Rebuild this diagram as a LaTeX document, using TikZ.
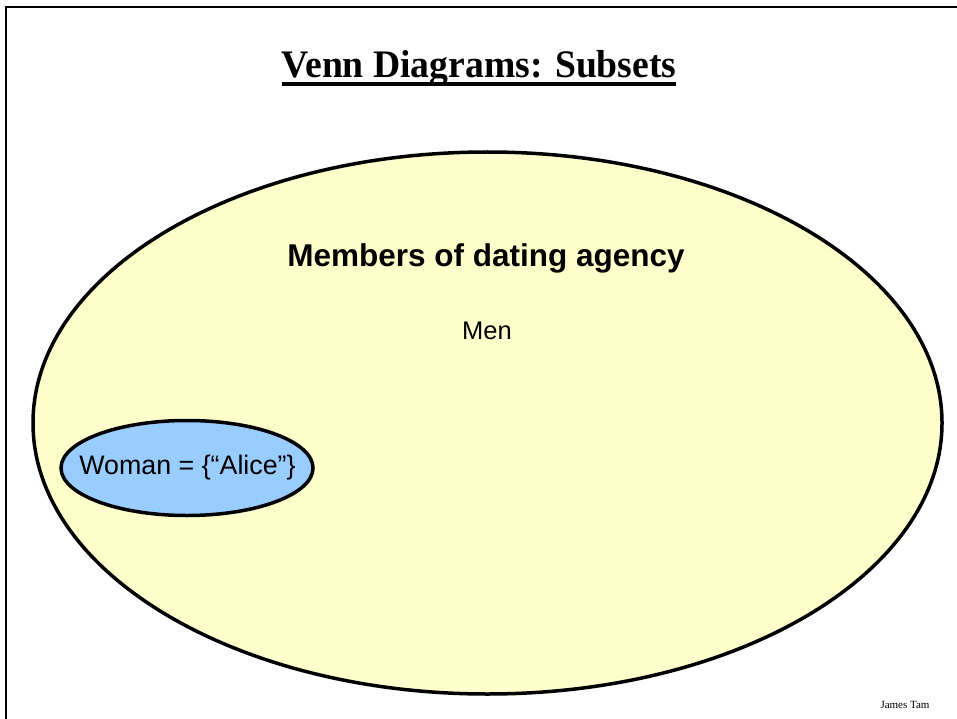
\documentclass[tikz,border=0pt]{standalone}
\usepackage{fontspec}
\setmainfont{Liberation Sans}
\newfontfamily\titlefont{Liberation Serif}
\usetikzlibrary{shapes.geometric}
\definecolor{setyellow}{HTML}{FFFFCC}
\definecolor{setblue}{HTML}{99CCFF}
\tikzset{
  setshape/.style={ellipse, draw=black, line width=3.5pt, inner sep=0pt, outer sep=0pt},
  lbl/.style={inner sep=0pt, anchor=center, text=black}
}
\begin{document}
\begin{tikzpicture}[x=1pt,y=-1pt]
\useasboundingbox (0,0) rectangle (957,719);
\fill[white] (0,0) rectangle (957,719);
\coordinate (fl) at (5.7,719);
\coordinate (fc) at (5.7,6.8);
\coordinate (fr) at (957,6.8);
\draw[line width=2.3pt] (fl) -- (fc) -- (fr);
\node[lbl, anchor=base, xscale=0.965, transform shape] (title) at (479,78) {\titlefont\fontsize{39}{42}\selectfont\bfseries Venn Diagrams: Subsets};
\coordinate (ul) at (282,84);
\coordinate (ur) at (676,84);
\draw[line width=3.3pt] (ul) -- (ur);
\node[setshape, fill=setyellow, minimum width=909pt, minimum height=542pt] (members) at (487.5,423) {};
\node[lbl] (mtext) at (486,258) {\fontsize{31.5}{34}\selectfont\bfseries Members of dating agency};
\node[lbl] (men) at (487,331) {\fontsize{25.5}{28}\selectfont Men};
\node[setshape, fill=setblue, minimum width=252pt, minimum height=95pt] (woman) at (187,468) {};
\node[lbl] (wtext) at (187.5,468) {\fontsize{26.8}{29}\selectfont Woman = \{“Alice”\}};
\node[lbl] (author) at (905,705) {\titlefont\fontsize{11}{13}\selectfont James Tam};
\end{tikzpicture}
\end{document}
